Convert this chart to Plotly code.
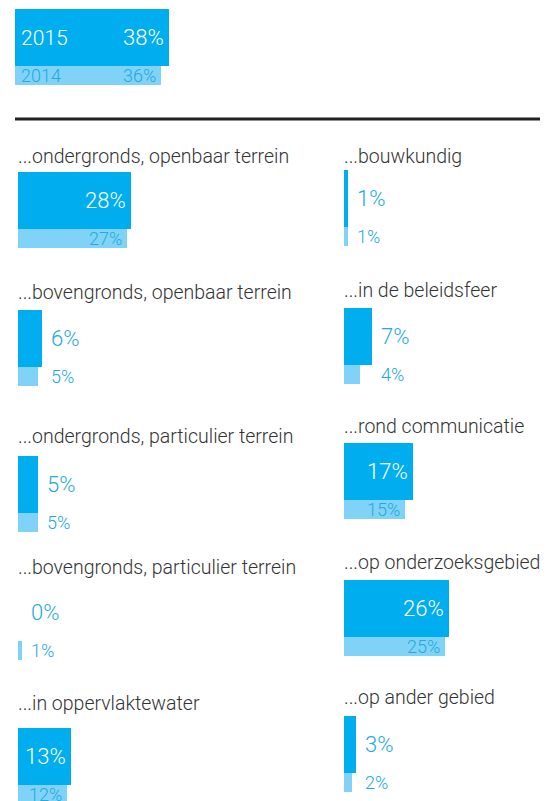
import plotly.graph_objects as go

# data
years = ["2015", "2014"]
total_2015 = 38
total_2014 = 36

titles_left = [
    "...ondergronds, openbaar terrein",
    "...bovengronds, openbaar terrein",
    "...ondergronds, particulier terrein",
    "...bovengronds, particulier terrein",
    "...in oppervlaktewater",
]
share_2015_left = [28, 6, 5, 0, 13]
share_2014_left = [27, 5, 5, 1, 12]

titles_right = [
    "...bouwkundig",
    "...in de beleidsfeer",
    "...rond communicatie",
    "...op onderzoeksgebied",
    "...op ander gebied",
]
share_2015_right = [1, 7, 17, 26, 3]
share_2014_right = [1, 4, 15, 25, 2]

# styling
W, H = 548, 801
OFF = 8  # page body margin in the browser
PX_PER_PCT = 4.05
PX_PER_UNIT = 19  # vertical: 2014 bar = 1 unit, 2015 bar = 3 units
BLUE = "#00aeef"
LIGHT = "#80d3f6"
TEXT_BLUE = "#22a9e1"
TITLE_GREY = "#333333"
NUM_FONT = "Roboto"

# panel geometry in screen pixels: (left x, title centre y, bar top y)
LEFT_PANELS = [(18, 156, 172), (18, 292, 310), (18, 436, 456), (18, 567, 584), (18, 703, 728)]
RIGHT_PANELS = [(344, 156, 170), (344, 290, 308), (344, 427, 443), (344, 562, 580), (344, 697, 716)]
TOP_PANEL = (15, None, 9)


def px_x(x):
    return (x - OFF) / W


def px_y(y):
    return 1 - (y - OFF) / H


fig = go.Figure()
layout = dict(annotations=[], shapes=[])
axis_count = [0]


def add_panel(x0, bar_top, width_px, v15, v14, title=None, title_y=None, year_labels=False):
    axis_count[0] += 1
    n = axis_count[0]
    xa = "x" if n == 1 else f"x{n}"
    ya = "y" if n == 1 else f"y{n}"
    xkey = "xaxis" if n == 1 else f"xaxis{n}"
    ykey = "yaxis" if n == 1 else f"yaxis{n}"

    bottom = bar_top + 4 * PX_PER_UNIT
    layout[xkey] = dict(
        domain=[px_x(x0), px_x(x0 + width_px)],
        range=[0, width_px / PX_PER_PCT],
        visible=False, fixedrange=True, anchor=ya,
    )
    layout[ykey] = dict(
        domain=[px_y(bottom), px_y(bar_top)],
        range=[0, 4],
        visible=False, fixedrange=True, anchor=xa,
    )

    fig.add_trace(go.Bar(
        x=[v15], y=[2.5], width=[3], base=0, orientation="h",
        marker=dict(color=BLUE, line=dict(width=0)),
        xaxis=xa, yaxis=ya, hoverinfo="skip", showlegend=False,
    ))
    fig.add_trace(go.Bar(
        x=[v14], y=[0.5], width=[1], base=0, orientation="h",
        marker=dict(color=LIGHT, line=dict(width=0)),
        xaxis=xa, yaxis=ya, hoverinfo="skip", showlegend=False,
    ))

    inside = min(v15, v14) >= 10
    for val, yc, size, col_in in ((v15, 2.5, 22, "white"), (v14, 0.5, 18, TEXT_BLUE)):
        if inside:
            ann = dict(x=val, xanchor="right", xshift=-3,
                       font=dict(family=NUM_FONT, size=size, color=col_in, weight=300))
        else:
            ann = dict(x=max(v15, v14), xanchor="left", xshift=7,
                       font=dict(family=NUM_FONT, size=size, color=TEXT_BLUE, weight=300))
        ann.update(text=f"{val}%", y=yc, xref=xa, yref=ya, yanchor="middle", showarrow=False)
        layout["annotations"].append(ann)

    if year_labels:
        for label, yc, size, col in ((years[0], 2.5, 21, "white"), (years[1], 0.5, 18, TEXT_BLUE)):
            layout["annotations"].append(dict(
                text=label, x=0, y=yc, xref=xa, yref=ya, xanchor="left", xshift=4,
                yanchor="middle", showarrow=False,
                font=dict(family=NUM_FONT, size=size, color=col, weight=300),
            ))

    if title:
        layout["annotations"].append(dict(
            text=title, x=px_x(x0), y=px_y(title_y), xref="paper", yref="paper",
            xanchor="left", yanchor="middle", showarrow=False, xshift=-2,
            font=dict(family="Roboto", size=19.5, color=TITLE_GREY, weight=300),
        ))


add_panel(TOP_PANEL[0], TOP_PANEL[2], 300, total_2015, total_2014, year_labels=True)
for (x0, ty, top), t, a, b in zip(LEFT_PANELS, titles_left, share_2015_left, share_2014_left):
    add_panel(x0, top, 300, a, b, title=t, title_y=ty)
for (x0, ty, top), t, a, b in zip(RIGHT_PANELS, titles_right, share_2015_right, share_2014_right):
    add_panel(x0, top, 196, a, b, title=t, title_y=ty)

# separator rule
layout["shapes"].append(dict(
    type="line", xref="paper", yref="paper",
    x0=px_x(15), x1=1, y0=px_y(119), y1=px_y(119),
    line=dict(color="#222222", width=3),
))

fig.update_layout(
    **layout,
    width=W, height=H,
    margin=dict(l=0, r=0, t=0, b=0),
    paper_bgcolor="white", plot_bgcolor="white",
    barmode="overlay", bargap=0,
)
fig.write_html("out.html", config=dict(displayModeBar=False))
